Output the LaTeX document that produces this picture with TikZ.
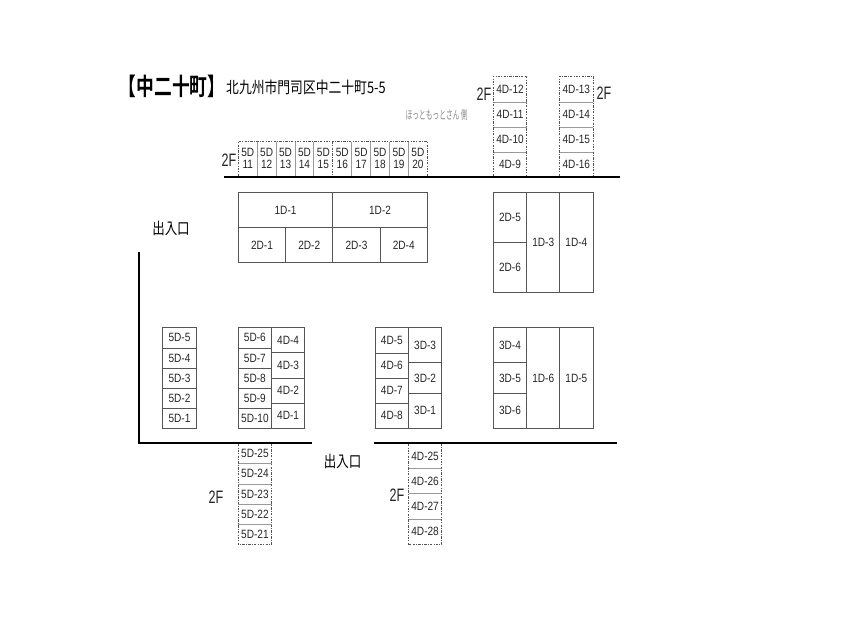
\documentclass[tikz,border=0pt]{standalone}
\usepackage{fontspec}
\usepackage{graphicx}
\setmainfont{Liberation Sans}
\newfontfamily\unitfont[FakeStretch=0.84]{Liberation Sans}
\newfontfamily\floorfont[FakeStretch=0.70]{Liberation Sans}
\newfontfamily\cjk{Noto Sans CJK JP}
\newfontfamily\cjkb{Noto Sans CJK JP Bold}
\definecolor{cellline}{HTML}{555555}
\definecolor{divline}{HTML}{9A9A9A}
\definecolor{wall}{HTML}{000000}
\definecolor{sidetext}{HTML}{8A8A8A}
\tikzset{
  unit/.style={rectangle,inner sep=0pt,outer sep=0pt,font=\unitfont\fontsize{12}{12}\selectfont,align=center,text=black!85},
  solidunit/.style={unit,draw=cellline,line width=0.9pt},
  upperunit/.style={unit},
  dashedge/.style={draw=cellline,line width=0.8pt,dash pattern=on 2.4pt off 1.2pt on 1pt off 1.2pt},
  sep/.style={draw=divline,line width=0.9pt},
  wallline/.style={draw=wall,line width=2pt},
  floorlabel/.style={inner sep=0pt,font=\floorfont\fontsize{18}{18}\selectfont,text=black!85},
  doorlabel/.style={inner sep=0pt,font=\cjk\fontsize{16}{16}\selectfont},
}
\newcommand\cellat[7]{% style,name,x0,y0,x1,y1,text
  \pgfmathsetmacro\cw{#5-#3}\pgfmathsetmacro\ch{#6-#4}
  \pgfmathsetmacro\cx{(#3+#5)/2}\pgfmathsetmacro\cy{(#4+#6)/2}
  \node[#1,minimum width=\cw pt,minimum height=\ch pt] (#2) at (\cx,\cy) {#7};}
\begin{document}
\begin{tikzpicture}[x=1pt,y=-1pt]
\useasboundingbox (0,0) rectangle (850,640);
\fill[white] (0,0) rectangle (850,640);
% walls
\coordinate (wa) at (224.3,177);\coordinate (wb) at (619.7,177);
\coordinate (la) at (138.7,252);\coordinate (lb) at (138.7,443);\coordinate (lc) at (311.7,443);
\coordinate (ra) at (374,443);\coordinate (rb) at (617,443);
\draw[wallline] (wa) -- (wb);
\draw[wallline,line join=miter] (la) -- (lb) -- (lc);
\draw[wallline] (ra) -- (rb);
% top row 2F
\foreach \i/\t [count=\k from 0] in {u11/11,u12/12,u13/13,u14/14,u15/15,u16/16,u17/17,u18/18,u19/19,u20/20}{
  \pgfmathsetmacro\xa{238.3+18.9*\k}\pgfmathsetmacro\xb{238.3+18.9*(\k+1)}
  \cellat{upperunit}{\i}{\xa}{141.7}{\xb}{176}{5D\\\t}
}
\foreach \i in {u11,u12,u13,u14,u16,u17,u18,u19}{\draw[sep] (\i.north east) -- (\i.south east);}
\draw[dashedge] (u11.south west) -- (u11.north west) -- (u20.north east) -- (u20.south east);
\draw[dashedge] (u15.north east) -- (u15.south east);
% 1D-1 block
\cellat{solidunit}{1D-1}{238.3}{192.3}{332.8}{227.7}{1D-1}
\cellat{solidunit}{1D-2}{332.8}{192.3}{427.3}{227.7}{1D-2}
\cellat{solidunit}{2D-1}{238.3}{227.7}{285.6}{262.7}{2D-1}
\cellat{solidunit}{2D-2}{285.6}{227.7}{332.8}{262.7}{2D-2}
\cellat{solidunit}{2D-3}{332.8}{227.7}{380.1}{262.7}{2D-3}
\cellat{solidunit}{2D-4}{380.1}{227.7}{427.3}{262.7}{2D-4}
% top right 2F columns
\cellat{upperunit}{4D-12}{493.3}{76}{526.7}{102}{4D-12}
\cellat{upperunit}{4D-11}{493.3}{102}{526.7}{127.3}{4D-11}
\cellat{upperunit}{4D-10}{493.3}{127.3}{526.7}{152.3}{4D-10}
\cellat{upperunit}{4D-9}{493.3}{152.3}{526.7}{176}{4D-9}
\cellat{upperunit}{4D-13}{559.7}{76}{593}{102}{4D-13}
\cellat{upperunit}{4D-14}{559.7}{102}{593}{127.3}{4D-14}
\cellat{upperunit}{4D-15}{559.7}{127.3}{593}{152.3}{4D-15}
\cellat{upperunit}{4D-16}{559.7}{152.3}{593}{176}{4D-16}
\foreach \i in {4D-12,4D-11,4D-10,4D-13,4D-14,4D-15}{\draw[sep] (\i.south west) -- (\i.south east);}
\draw[dashedge] (4D-9.south west) -- (4D-12.north west) -- (4D-12.north east) -- (4D-9.south east);
\draw[dashedge] (4D-16.south west) -- (4D-13.north west) -- (4D-13.north east) -- (4D-16.south east);
% right upper block
\cellat{solidunit}{2D-5}{493.3}{192.3}{526.7}{242.7}{2D-5}
\cellat{solidunit}{2D-6}{493.3}{242.7}{526.7}{292.3}{2D-6}
\cellat{solidunit}{1D-3}{526.7}{192.3}{559.7}{292.3}{1D-3}
\cellat{solidunit}{1D-4}{559.7}{192.3}{593}{292.3}{1D-4}
% 5D-5 column
\cellat{solidunit}{5D-5}{162.7}{327.7}{196.3}{348}{5D-5}
\cellat{solidunit}{5D-4}{162.7}{348}{196.3}{368.3}{5D-4}
\cellat{solidunit}{5D-3}{162.7}{368.3}{196.3}{388.3}{5D-3}
\cellat{solidunit}{5D-2}{162.7}{388.3}{196.3}{408.3}{5D-2}
\cellat{solidunit}{5D-1}{162.7}{408.3}{196.3}{428.3}{5D-1}
% 5D-6 / 4D-4 block
\cellat{solidunit}{5D-6}{238.3}{327.7}{271.5}{348}{5D-6}
\cellat{solidunit}{5D-7}{238.3}{348}{271.5}{368.3}{5D-7}
\cellat{solidunit}{5D-8}{238.3}{368.3}{271.5}{388.3}{5D-8}
\cellat{solidunit}{5D-9}{238.3}{388.3}{271.5}{408.3}{5D-9}
\cellat{solidunit}{5D-10}{238.3}{408.3}{271.5}{428.3}{5D-10}
\cellat{solidunit}{4D-4}{271.5}{327.7}{304.7}{352.7}{4D-4}
\cellat{solidunit}{4D-3}{271.5}{352.7}{304.7}{378.3}{4D-3}
\cellat{solidunit}{4D-2}{271.5}{378.3}{304.7}{403.3}{4D-2}
\cellat{solidunit}{4D-1}{271.5}{403.3}{304.7}{428.3}{4D-1}
% 4D-5 / 3D block
\cellat{solidunit}{4D-5}{375.3}{327.7}{408.5}{353}{4D-5}
\cellat{solidunit}{4D-6}{375.3}{353}{408.5}{378.3}{4D-6}
\cellat{solidunit}{4D-7}{375.3}{378.3}{408.5}{403.3}{4D-7}
\cellat{solidunit}{4D-8}{375.3}{403.3}{408.5}{428.3}{4D-8}
\cellat{solidunit}{3D-3}{408.5}{327.7}{441.7}{362.7}{3D-3}
\cellat{solidunit}{3D-2}{408.5}{362.7}{441.7}{393.3}{3D-2}
\cellat{solidunit}{3D-1}{408.5}{393.3}{441.7}{428.3}{3D-1}
% 3D-4 / 1D block
\cellat{solidunit}{3D-4}{493.3}{327.7}{526.7}{362.7}{3D-4}
\cellat{solidunit}{3D-5}{493.3}{362.7}{526.7}{393.3}{3D-5}
\cellat{solidunit}{3D-6}{493.3}{393.3}{526.7}{428.3}{3D-6}
\cellat{solidunit}{1D-6}{526.7}{327.7}{559.7}{428.3}{1D-6}
\cellat{solidunit}{1D-5}{559.7}{327.7}{593}{428.3}{1D-5}
% lower 2F columns
\cellat{upperunit}{5D-25}{238.3}{444}{271.5}{463.7}{5D-25}
\cellat{upperunit}{5D-24}{238.3}{463.7}{271.5}{484}{5D-24}
\cellat{upperunit}{5D-23}{238.3}{484}{271.5}{504}{5D-23}
\cellat{upperunit}{5D-22}{238.3}{504}{271.5}{524}{5D-22}
\cellat{upperunit}{5D-21}{238.3}{524}{271.5}{544.3}{5D-21}
\foreach \i in {5D-25,5D-24,5D-23,5D-22}{\draw[sep] (\i.south west) -- (\i.south east);}
\draw[dashedge] (5D-25.north west) -- (5D-21.south west) -- (5D-21.south east) -- (5D-25.north east);
\cellat{upperunit}{4D-25}{408.5}{444}{441.7}{468.7}{4D-25}
\cellat{upperunit}{4D-26}{408.5}{468.7}{441.7}{493.7}{4D-26}
\cellat{upperunit}{4D-27}{408.5}{493.7}{441.7}{519}{4D-27}
\cellat{upperunit}{4D-28}{408.5}{519}{441.7}{544.3}{4D-28}
\foreach \i in {4D-25,4D-26,4D-27}{\draw[sep] (\i.south west) -- (\i.south east);}
\draw[dashedge] (4D-25.north west) -- (4D-28.south west) -- (4D-28.south east) -- (4D-25.north east);
% labels
\node[floorlabel] (f1) at (229,160) {2F};
\node[floorlabel] (f2) at (484,94) {2F};
\node[floorlabel] (f3) at (604,93) {2F};
\node[floorlabel] (f4) at (216,497.7) {2F};
\node[floorlabel] (f5) at (397,495) {2F};
\node[doorlabel] (d1) at (171,228) {\scalebox{.78}[1]{出入口}};
\node[doorlabel] (d2) at (342.7,461) {\scalebox{.78}[1]{出入口}};
\node[inner sep=0pt,text=sidetext,font=\cjk\fontsize{12}{12}\selectfont] (side) at (436.7,115) {\scalebox{.56}[1]{ほっともっとさん 側}};
\node[inner sep=0pt,font=\cjkb\fontsize{24}{24}\selectfont] (title) at (172,86) {\scalebox{.74}[1]{【中二十町】}};
\node[inner sep=0pt,font=\cjk\fontsize{16}{16}\selectfont,anchor=west] (addr) at (226,87) {\scalebox{.8}[1]{北九州市門司区中二十町5-5}};
\end{tikzpicture}
\end{document}
